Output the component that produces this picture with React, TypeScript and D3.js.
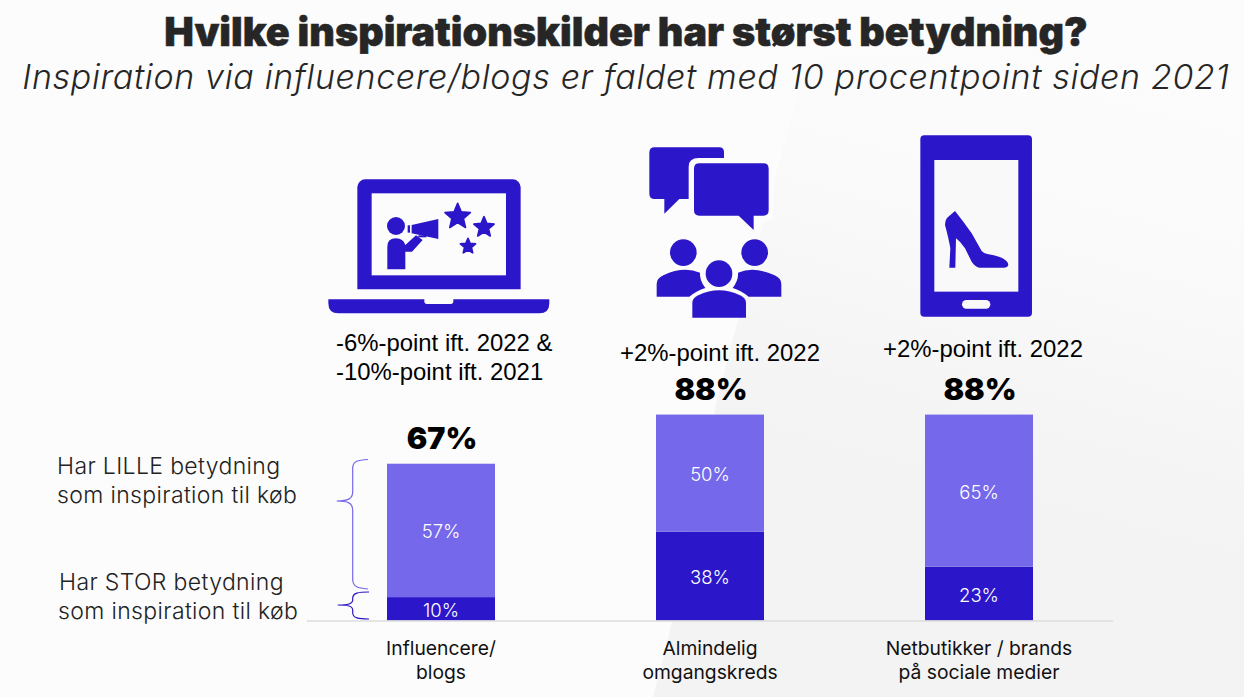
import * as d3 from 'd3';

const categories = ['Influencere/|blogs', 'Almindelig|omgangskreds', 'Netbutikker / brands|på sociale medier'];
const storValues = [10, 38, 23];
const lilleValues = [57, 50, 65];
const totals = ['67%', '88%', '88%'];
const changeNotes = [
  ['-6%-point ift. 2022 &', '-10%-point ift. 2021'],
  ['+2%-point ift. 2022'],
  ['+2%-point ift. 2022'],
];
const seriesKeys = ['stor', 'lille'];

const DARK = '#2b17c9';
const LIGHT = '#7568ea';
const BG = '#fcfcfc';
const UI = 'Inter, sans-serif';
const ARIAL = '"Liberation Sans", Arial, sans-serif';

const width = 1244;
const height = 697;

const x = d3.scaleBand<string>()
  .domain(categories)
  .range([387, 1033])
  .paddingInner(161 / 269)
  .paddingOuter(0);

const y = d3.scaleLinear().domain([0, 100]).range([620.5, 386.5]);

const rows = categories.map((c, i) => ({ category: c, stor: storValues[i], lille: lilleValues[i] }));
const stacked = d3.stack<any>().keys(seriesKeys)(rows);

function star(cx: number, cy: number, r: number) {
  const pts: [number, number][] = [];
  for (let i = 0; i < 10; i++) {
    const a = (i * Math.PI) / 5;
    const rad = i % 2 === 0 ? r : r * 0.45;
    pts.push([cx + rad * Math.sin(a), cy - rad * Math.cos(a)]);
  }
  return d3.line()(pts) + 'Z';
}

// ikoner er tegnet i zoom-koordinater (3x)
function LaptopIcon() {
  return (
    <g transform="translate(320,130) scale(0.3333)" fill={DARK}>
      <path d="M136,148H578A24,24 0 0 1 602,172V478H112V172A24,24 0 0 1 136,148Z" />
      <rect x={155} y={190} width={403} height={246} fill={BG} />
      <path d="M25,508H313V514Q313,522 321,522H392Q400,522 400,514V508H688V520Q688,550 658,550H55Q25,550 25,520Z" />
      <circle cx={228} cy={288} r={27} />
      <path d="M202,418V350Q202,325 228,325Q250,325 256,345L288,316L308,330L276,365H256V418Z" />
      <rect x={263} y={286} width={7} height={22} />
      <path d="M275,285L355,267V327L275,310Z" />
      <rect x={295} y={316} width={24} height={6} />
      <g stroke={DARK} strokeWidth={5} strokeLinejoin="round">
        <path d={star(413, 260, 40)} />
        <path d={star(492, 292, 32)} />
        <path d={star(444, 349, 24)} />
      </g>
    </g>
  );
}

function PeopleIcon() {
  return (
    <g transform="translate(640,130) scale(0.3333)" fill={DARK}>
      <path d="M44,52H238Q252,52 252,66V207H118L73,251V207H44Q28,207 28,191V68Q28,52 44,52Z" />
      <path d="M176,84H370Q400,84 400,110V260Q400,274 370,274H356V316H330L280,274H176Q146,274 146,244V110Q146,84 176,84Z" fill={BG} />
      <path d="M178,100H370Q386,100 386,116V241Q386,257 370,257H341V300L296,257H178Q162,257 162,241V116Q162,100 178,100Z" />
      <circle cx={130} cy={368} r={40} />
      <circle cx={344} cy={368} r={40} />
      <path d="M50,500V462Q50,445 70,436Q130,408 180,428Q178,450 196,474Q170,482 148,500Z" />
      <path d="M424,500V462Q424,445 404,436Q344,408 294,428Q296,450 278,474Q304,482 326,500Z" />
      <circle cx={237} cy={431} r={40} />
      <path d="M157,563V518Q157,505 175,496Q237,466 300,496Q318,505 318,518V563Z" />
    </g>
  );
}

function PhoneIcon() {
  return (
    <g transform="translate(900,125) scale(0.3333)" fill={DARK}>
      <rect x={61} y={31} width={335} height={544} rx={12} />
      <rect x={103} y={105} width={252} height={395} fill="#f9f9f9" />
      <rect x={186} y={525} width={85} height={26} rx={13} fill="#f9f9f9" />
      <path d="M165,258L190,290L215,325L245,378Q252,385 262,387Q290,392 305,398Q325,408 325,420Q322,428 312,428H238Q225,425 215,410L195,370Q182,350 168,340L166,428H148L151,370Q146,340 135,300Q136,280 145,275Z" />
    </g>
  );
}

export default function App() {
  return (
    <div style={{ position: 'fixed', left: 0, top: 0, width, height }}>
      <svg width={width} height={height} style={{ display: 'block' }}>
        <defs>
          <linearGradient id="bgFade" x1="0.6" y1="0" x2="0.4" y2="0.8">
            <stop offset="0" stopColor="#fcfcfc" />
            <stop offset="0.35" stopColor="#f9f9f9" />
            <stop offset="0.8" stopColor="#f3f3f3" />
          </linearGradient>
        </defs>
        <rect width={width} height={height} fill={BG} />
        <path d="M806,60L717,400L668,640L653,697H1244V60Z" fill="url(#bgFade)" />

        <text x={626} y={46} textAnchor="middle" fontFamily={UI} fontWeight={900} fontSize={39.5} stroke="#262626" strokeWidth={0.5} fill="#262626">
          Hvilke inspirationskilder har størst betydning?
        </text>
        <text x={626} y={89} textAnchor="middle" fontFamily={UI} fontStyle="italic" fontWeight={300} fontSize={34} letterSpacing={0.65} fill="#262626">
          Inspiration via influencere/blogs er faldet med 10 procentpoint siden 2021
        </text>

        <LaptopIcon />
        <PeopleIcon />
        <PhoneIcon />

        {/* Søjler */}
        {stacked.map((series, si) => (
          <g key={series.key} fill={si === 0 ? DARK : LIGHT}>
            {series.map((d, i) => (
              <rect
                key={i}
                x={x(categories[i])}
                y={y(d[1])}
                width={x.bandwidth()}
                height={y(d[0]) - y(d[1])}
              />
            ))}
          </g>
        ))}
        {stacked.map(series =>
          series.map((d, i) => (
            <text
              key={series.key + i}
              x={x(categories[i])! + x.bandwidth() / 2}
              y={y((d[0] + d[1]) / 2) + 8}
              textAnchor="middle"
              fontFamily={UI}
              fontWeight={300}
              fontSize={18.5}
              fill="#ffffff"
            >
              {d[1] - d[0]}%
            </text>
          )),
        )}

        {/* Total og ændring */}
        {categories.map((c, i) => {
          const top = y(storValues[i] + lilleValues[i]);
          const cx = x(c)! + x.bandwidth() / 2;
          const notes = changeNotes[i];
          return (
            <g key={c}>
              <text x={cx + 1} y={top - 15} textAnchor="middle" fontFamily={UI} fontWeight={900} fontSize={30.5} fill="#000">
                {totals[i]}
              </text>
              {notes.map((n, j) => (
                <text
                  key={n}
                  x={notes.length > 1 ? 336 : i === 2 ? 983 : 720}
                  y={notes.length > 1 ? 351 + j * 28.5 : i === 2 ? 357 : 361}
                  textAnchor={notes.length > 1 ? 'start' : 'middle'}
                  fontFamily={ARIAL}
                  fontSize={23.9}
                  fill="#000"
                >
                  {n}
                </text>
              ))}
            </g>
          );
        })}

        {/* Akse */}
        <line x1={307} x2={1113} y1={y(0) + 0.5} y2={y(0) + 0.5} stroke="#dcdcdc" strokeWidth={1.5} />
        {categories.map(c =>
          c.split('|').map((line, j) => (
            <text
              key={line}
              x={x(c)! + x.bandwidth() / 2}
              y={655 + j * 24}
              textAnchor="middle"
              fontFamily={UI}
              fontSize={19.3}
              fill="#111"
            >
              {line}
            </text>
          )),
        )}

        {/* Forklaring til venstre */}
        <g fontFamily={UI} fontWeight={300} fontSize={23} letterSpacing={0.36} fill="#222">
          <text x={57} y={473.5}>Har LILLE betydning</text>
          <text x={57} y={503}>som inspiration til køb</text>
          <text x={59} y={589.5}>Har STOR betydning</text>
          <text x={58} y={619}>som inspiration til køb</text>
        </g>
        <path
          d="M368,459.5C358,460 353,461 352.7,468V492C352.5,499 348,501 336.7,501C348,501 352.5,503 352.7,510V580C353,587 358,588 368,589"
          fill="none"
          stroke={LIGHT}
          strokeWidth={1.2}
        />
        <path
          d="M369,592C358,592 353,593 352.7,598V600C352.5,604 348,605 337.7,605C348,605 352.5,606 352.7,610V613C353,618 358,619 369,619"
          fill="none"
          stroke={DARK}
          strokeWidth={1.2}
        />
      </svg>
    </div>
  );
}
